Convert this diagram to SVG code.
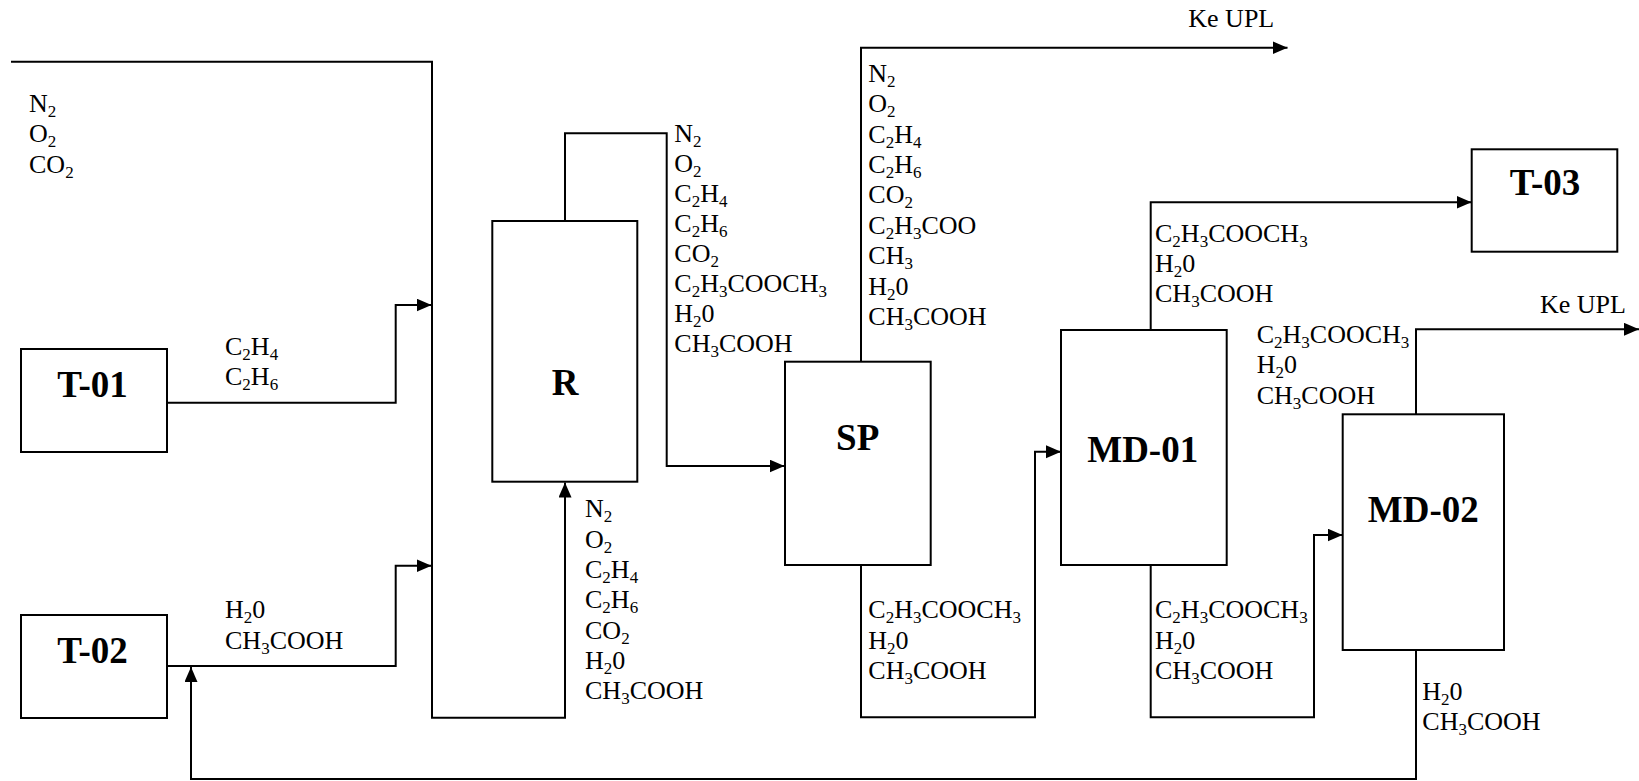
<svg xmlns="http://www.w3.org/2000/svg" width="1639" height="781" viewBox="0 0 1639 781">
<defs>
<style>
.t{font-family:"Liberation Serif","Times New Roman",serif;font-size:26px;fill:#000}
.s{font-size:17px;baseline-shift:-5px}
.b{font-family:"Liberation Serif","Times New Roman",serif;font-size:37px;font-weight:bold;text-anchor:middle;fill:#000}
.box{fill:#fff;stroke:#000;stroke-width:2}
.c{fill:none;stroke:#000;stroke-width:2}
</style>
<marker id="a" markerWidth="16" markerHeight="14" refX="15" refY="6.5" orient="auto" markerUnits="userSpaceOnUse"><path d="M0,0 L15,6.5 L0,13 z" fill="#000"/></marker>
</defs>
<rect width="1639" height="781" fill="#fff"/>
<g id="connectors">
<path class="c" d="M11,61.7 H432 V717.7 H565 V482.5" marker-end="url(#a)"/>
<path class="c" d="M167,402.7 H395.7 V305 H431.5" marker-end="url(#a)"/>
<path class="c" d="M167,666 H395.7 V565.7 H431.5" marker-end="url(#a)"/>
<path class="c" d="M1416,650 V779 H191 V667" marker-end="url(#a)"/>
<path class="c" d="M565,221 V133.3 H666.7 V466 H784.5" marker-end="url(#a)"/>
<path class="c" d="M861,361.7 V47.7 H1287.5" marker-end="url(#a)"/>
<path class="c" d="M861,565 V717.3 H1035 V451.7 H1061" marker-end="url(#a)"/>
<path class="c" d="M1150.7,330 V202.3 H1471.5" marker-end="url(#a)"/>
<path class="c" d="M1150.7,565 V717.3 H1314 V535 H1342.5" marker-end="url(#a)"/>
<path class="c" d="M1416,414.3 V329.3 H1639" marker-end="url(#a)"/>
</g>
<g id="T-01"><rect class="box" x="21" y="349" width="146" height="103"/><text class="b" x="92.5" y="397">T-01</text></g>
<g id="T-02"><rect class="box" x="21" y="615" width="146" height="103"/><text class="b" x="92.5" y="663">T-02</text></g>
<g id="R"><rect class="box" x="492.3" y="221" width="145" height="260.7"/><text class="b" x="565" y="395">R</text></g>
<g id="SP"><rect class="box" x="785" y="361.7" width="145.7" height="203.3"/><text class="b" x="857.7" y="450">SP</text></g>
<g id="MD-01"><rect class="box" x="1061" y="330" width="165.7" height="235"/><text class="b" x="1142.7" y="461.7">MD-01</text></g>
<g id="T-03"><rect class="box" x="1471.7" y="149.3" width="145.6" height="102.4"/><text class="b" x="1545" y="195">T-03</text></g>
<g id="MD-02"><rect class="box" x="1342.7" y="414.3" width="161.3" height="235.7"/><text class="b" x="1423.3" y="521.7">MD-02</text></g>
<g id="labels">
<text class="t" x="29" y="111.7">N<tspan class="s">2</tspan></text>
<text class="t" x="29" y="142">O<tspan class="s">2</tspan></text>
<text class="t" x="29" y="172.5">CO<tspan class="s">2</tspan></text>

<text class="t" x="225" y="355">C<tspan class="s">2</tspan>H<tspan class="s">4</tspan></text>
<text class="t" x="225" y="385">C<tspan class="s">2</tspan>H<tspan class="s">6</tspan></text>

<text class="t" x="225" y="618">H<tspan class="s">2</tspan>0</text>
<text class="t" x="225" y="649">CH<tspan class="s">3</tspan>COOH</text>

<text class="t" x="674.3" y="141.7">N<tspan class="s">2</tspan></text>
<text class="t" x="674.3" y="171.7">O<tspan class="s">2</tspan></text>
<text class="t" x="674.3" y="201.7">C<tspan class="s">2</tspan>H<tspan class="s">4</tspan></text>
<text class="t" x="674.3" y="231.7">C<tspan class="s">2</tspan>H<tspan class="s">6</tspan></text>
<text class="t" x="674.3" y="261.7">CO<tspan class="s">2</tspan></text>
<text class="t" x="674.3" y="291.7">C<tspan class="s">2</tspan>H<tspan class="s">3</tspan>COOCH<tspan class="s">3</tspan></text>
<text class="t" x="674.3" y="321.7">H<tspan class="s">2</tspan>0</text>
<text class="t" x="674.3" y="352">CH<tspan class="s">3</tspan>COOH</text>

<text class="t" x="585" y="517.3">N<tspan class="s">2</tspan></text>
<text class="t" x="585" y="547.7">O<tspan class="s">2</tspan></text>
<text class="t" x="585" y="578">C<tspan class="s">2</tspan>H<tspan class="s">4</tspan></text>
<text class="t" x="585" y="608.3">C<tspan class="s">2</tspan>H<tspan class="s">6</tspan></text>
<text class="t" x="585" y="638.6">CO<tspan class="s">2</tspan></text>
<text class="t" x="585" y="669">H<tspan class="s">2</tspan>0</text>
<text class="t" x="585" y="699.3">CH<tspan class="s">3</tspan>COOH</text>

<text class="t" x="1188.3" y="26.7">Ke UPL</text>
<text class="t" x="868.3" y="81.7">N<tspan class="s">2</tspan></text>
<text class="t" x="868.3" y="112">O<tspan class="s">2</tspan></text>
<text class="t" x="868.3" y="142.5">C<tspan class="s">2</tspan>H<tspan class="s">4</tspan></text>
<text class="t" x="868.3" y="172.9">C<tspan class="s">2</tspan>H<tspan class="s">6</tspan></text>
<text class="t" x="868.3" y="203.3">CO<tspan class="s">2</tspan></text>
<text class="t" x="868.3" y="233.7">C<tspan class="s">2</tspan>H<tspan class="s">3</tspan>COO</text>
<text class="t" x="868.3" y="264">CH<tspan class="s">3</tspan></text>
<text class="t" x="868.3" y="294.5">H<tspan class="s">2</tspan>0</text>
<text class="t" x="868.3" y="324.9">CH<tspan class="s">3</tspan>COOH</text>

<text class="t" x="868.3" y="618.3">C<tspan class="s">2</tspan>H<tspan class="s">3</tspan>COOCH<tspan class="s">3</tspan></text>
<text class="t" x="868.3" y="648.6">H<tspan class="s">2</tspan>0</text>
<text class="t" x="868.3" y="679">CH<tspan class="s">3</tspan>COOH</text>

<text class="t" x="1155" y="241.7">C<tspan class="s">2</tspan>H<tspan class="s">3</tspan>COOCH<tspan class="s">3</tspan></text>
<text class="t" x="1155" y="271.7">H<tspan class="s">2</tspan>0</text>
<text class="t" x="1155" y="301.7">CH<tspan class="s">3</tspan>COOH</text>

<text class="t" x="1155" y="618.3">C<tspan class="s">2</tspan>H<tspan class="s">3</tspan>COOCH<tspan class="s">3</tspan></text>
<text class="t" x="1155" y="648.6">H<tspan class="s">2</tspan>0</text>
<text class="t" x="1155" y="679">CH<tspan class="s">3</tspan>COOH</text>

<text class="t" x="1540" y="312.7">Ke UPL</text>
<text class="t" x="1256.7" y="342.7">C<tspan class="s">2</tspan>H<tspan class="s">3</tspan>COOCH<tspan class="s">3</tspan></text>
<text class="t" x="1256.7" y="373">H<tspan class="s">2</tspan>0</text>
<text class="t" x="1256.7" y="403.5">CH<tspan class="s">3</tspan>COOH</text>

<text class="t" x="1422.3" y="700">H<tspan class="s">2</tspan>0</text>
<text class="t" x="1422.3" y="730">CH<tspan class="s">3</tspan>COOH</text>
</g>
</svg>
